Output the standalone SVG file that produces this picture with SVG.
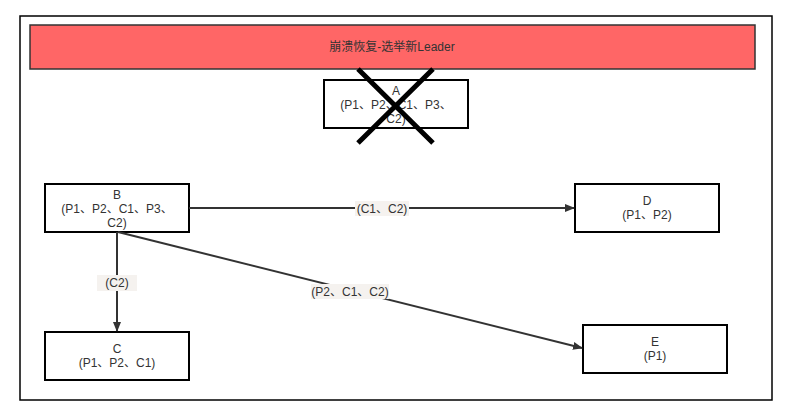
<svg xmlns="http://www.w3.org/2000/svg" width="790" height="411" viewBox="0 0 790 411">
<defs>
<style>
.node{fill:#fff;stroke:#000;stroke-width:2}
.t{font-family:"Liberation Sans","Noto Sans CJK SC",sans-serif;font-size:12px;fill:#333;text-anchor:middle}
.e{stroke:#333;stroke-width:2;fill:none}
.lbl{fill:#f5f2ef}
</style>
<marker id="arr" markerWidth="10" markerHeight="10" refX="9" refY="5" orient="auto" markerUnits="userSpaceOnUse">
<path d="M0,1 L10,5 L0,9 Z" fill="#333"/>
</marker>
</defs>
<rect width="790" height="411" fill="#fff"/>
<rect x="20" y="16" width="752" height="384" fill="#fff" stroke="#000" stroke-width="1.5"/>
<g id="banner">
<rect x="30" y="25" width="725" height="44" fill="#ff6666" stroke="#333" stroke-width="1.5"/>
<text class="t" x="392" y="51">崩溃恢复-选举新Leader</text>
</g>
<g id="A">
<rect class="node" x="324" y="80" width="144" height="48"/>
<text class="t" x="396" y="95">A</text>
<text class="t" x="396" y="109">(P1、P2、C1、P3、</text>
<text class="t" x="396" y="123">C2)</text>
<path d="M358,69 L433,143 M433,69 L358,143" stroke="#000" stroke-width="5"/>
</g>
<g id="B">
<rect class="node" x="45" y="184" width="144" height="48"/>
<text class="t" x="117" y="199">B</text>
<text class="t" x="117" y="213">(P1、P2、C1、P3、</text>
<text class="t" x="117" y="227">C2)</text>
</g>
<g id="D">
<rect class="node" x="575" y="184" width="144" height="48"/>
<text class="t" x="647" y="205">D</text>
<text class="t" x="647" y="219">(P1、P2)</text>
</g>
<g id="C">
<rect class="node" x="45" y="332" width="144" height="48"/>
<text class="t" x="117" y="353">C</text>
<text class="t" x="117" y="367">(P1、P2、C1)</text>
</g>
<g id="E">
<rect class="node" x="583" y="325" width="144" height="48"/>
<text class="t" x="655" y="346">E</text>
<text class="t" x="655" y="360">(P1)</text>
</g>
<g id="edges">
<path class="e" d="M189,208 L574,208" marker-end="url(#arr)"/>
<rect class="lbl" x="355" y="201" width="54" height="15"/>
<text class="t" x="382" y="213">(C1、C2)</text>
<path class="e" d="M117,232 L117,331" marker-end="url(#arr)"/>
<rect class="lbl" x="97" y="275" width="40" height="16"/>
<text class="t" x="117" y="287">(C2)</text>
<path class="e" d="M118,232 L582,348" marker-end="url(#arr)"/>
<rect class="lbl" x="311" y="284" width="78" height="15"/>
<text class="t" x="350" y="296">(P2、C1、C2)</text>
</g>
</svg>
